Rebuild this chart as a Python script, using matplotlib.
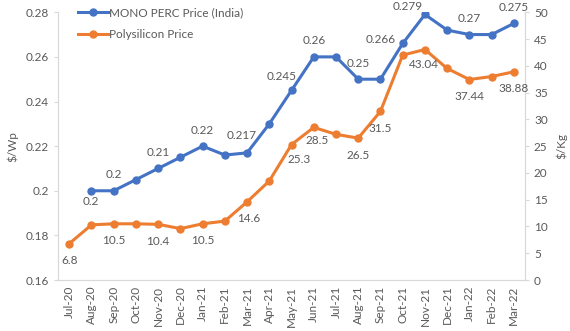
import numpy as np
import matplotlib
matplotlib.use("Agg")
import matplotlib.pyplot as plt

months = ["Jul-20", "Aug-20", "Sep-20", "Oct-20", "Nov-20", "Dec-20", "Jan-21",
          "Feb-21", "Mar-21", "Apr-21", "May-21", "Jun-21", "Jul-21", "Aug-21",
          "Sep-21", "Oct-21", "Nov-21", "Dec-21", "Jan-22", "Feb-22", "Mar-22"]
mono = [np.nan, 0.2, 0.2, 0.205, 0.21, 0.215, 0.22, 0.216, 0.217, 0.23, 0.245,
        0.26, 0.26, 0.25, 0.25, 0.266, 0.279, 0.272, 0.27, 0.27, 0.275]
poly = [6.8, 10.3, 10.5, 10.5, 10.4, 9.6, 10.5, 11.0, 14.6, 18.5, 25.3,
        28.5, 27.2, 26.5, 31.5, 42.0, 43.04, 39.5, 37.44, 38.0, 38.88]

# which points carry a data label
mono_labelled = [1, 2, 4, 6, 8, 10, 11, 13, 15, 16, 18, 20]
poly_labelled = [0, 2, 4, 6, 8, 10, 11, 13, 14, 16, 18, 20]

# label offsets in pixels (dx, dy)
mono_off = {1: (-1, -11), 8: (-5, 17), 10: (-10, 14), 15: (-22, 4), 16: (-17, 8)}
poly_off = {8: (2, -17), 10: (8, -15), 11: (3, -13), 16: (-1, -15)}

BLUE = "#4472C4"
ORANGE = "#ED7D31"
TXT = "#595959"
GRID = "#D9D9D9"

plt.rcParams["font.family"] = ["Lato", "DejaVu Sans"]
plt.rcParams["font.size"] = 8.5

fig = plt.figure(figsize=(5.7, 3.31), dpi=100)
ax = fig.add_axes([0.102, 0.154, 0.819, 0.809])
ax2 = ax.twinx()

x = np.arange(len(months))
l1, = ax.plot(x, mono, color=BLUE, lw=2.2, marker="o", ms=5,
              label="MONO PERC Price (India)", zorder=3)
l2, = ax2.plot(x, poly, color=ORANGE, lw=2.2, marker="o", ms=5,
               label="Polysilicon Price", zorder=3)

ax.set_ylim(0.16, 0.28)
ax.set_yticks(np.arange(0.16, 0.2801, 0.02))
ax.set_yticklabels(["%g" % round(v, 2) for v in np.arange(0.16, 0.2801, 0.02)])
ax2.set_ylim(0, 50)
ax2.set_yticks(range(0, 51, 5))
ax.set_xlim(-0.5, len(months) - 0.5)
ax.set_xticks(x)
ax.set_xticklabels(months, rotation=90)

for a in (ax, ax2):
    for s in a.spines.values():
        s.set_color(GRID)
    a.spines["top"].set_visible(False)
    a.tick_params(colors=GRID, labelcolor=TXT, labelsize=8.5, length=3)
ax.tick_params(axis="x", length=0, pad=4)

ax.set_ylabel("$/Wp", color=TXT, fontsize=8.5, labelpad=5)
ax2.set_ylabel("$/Kg", color=TXT, fontsize=8.5, rotation=90, labelpad=6)

for i in mono_labelled:
    dx, dy = mono_off.get(i, (0, 16))
    ax.annotate("%g" % mono[i], (x[i], mono[i]), xytext=(dx, dy),
                textcoords="offset pixels", ha="center", va="center",
                color=TXT, fontsize=8.5)
for i in poly_labelled:
    dx, dy = poly_off.get(i, (0, -17))
    ax2.annotate("%g" % poly[i], (x[i], poly[i]), xytext=(dx, dy),
                 textcoords="offset pixels", ha="center", va="center",
                 color=TXT, fontsize=8.5)

leg = ax.legend(handles=[l1, l2], loc="upper left", bbox_to_anchor=(0.02, 1.058),
                frameon=False, handlelength=2.5, handletextpad=0.1,
                labelspacing=0.9, fontsize=8.5)
for t in leg.get_texts():
    t.set_color(TXT)

fig.savefig("out.png", dpi=100)
